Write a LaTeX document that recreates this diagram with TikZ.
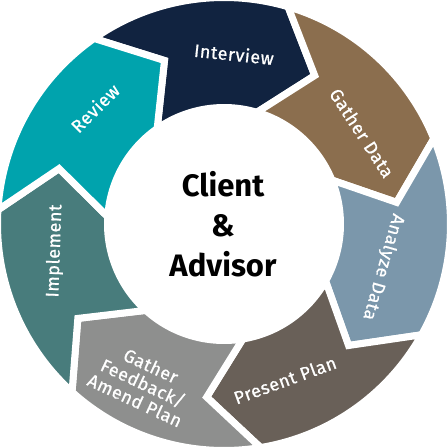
\documentclass[tikz,border=0pt]{standalone}
\usepackage{fontspec}
\setmainfont{Fira Sans}
\newfontfamily\lblfont{Fira Sans}[FakeBold=0.8, LetterSpace=3]
\definecolor{cNavy}{RGB}{17,35,64}
\definecolor{cBrown}{RGB}{139,110,78}
\definecolor{cSteel}{RGB}{123,151,171}
\definecolor{cTaupe}{RGB}{105,96,88}
\definecolor{cGray}{RGB}{142,143,142}
\definecolor{cSea}{RGB}{72,124,124}
\definecolor{cTeal}{RGB}{0,163,173}
\newcommand\RingSeg[3]{%
  \path[seg=#1] (#2:226.5pt) arc[start angle=#2, end angle=#3, radius=226.5pt]
    -- ({#3-15}:174pt) -- (#3:116.5pt)
    arc[start angle=#3, end angle=#2, radius=116.5pt]
    -- ({#2-15}:174pt) -- cycle;}
\begin{document}
\begin{tikzpicture}[
  seg/.style={fill=#1, draw=white, line width=7pt, line join=miter},
  lbl/.style={text=white, font=\lblfont\fontsize{18}{19}\selectfont, inner sep=0pt},
  hub/.style={text=black, font=\bfseries\fontsize{31}{40}\selectfont, align=center}]
\useasboundingbox (-224pt,-224pt) rectangle (224pt,224pt);
\RingSeg{cNavy}{125}{73.57}
\RingSeg{cBrown}{73.57}{22.14}
\RingSeg{cSteel}{22.14}{-29.29}
\RingSeg{cTaupe}{-29.29}{-80.71}
\RingSeg{cGray}{-80.71}{-132.14}
\RingSeg{cSea}{-132.14}{-183.57}
\RingSeg{cTeal}{176.43}{125}
\node[lbl, rotate=-6] (interview) at (10pt,170pt) {Interview};
\node[lbl, rotate=-57] (gather) at (138pt,91pt) {Gather Data};
\node[lbl, rotate=-106] (analyze) at (159pt,-43pt) {Analyze Data};
\node[lbl, rotate=20] (present) at (61pt,-156pt) {Present Plan};
\node[lbl, rotate=-25, align=center, font=\lblfont\fontsize{18}{19}\selectfont] (feedback) at (-81pt,-159pt) {Gather\\Feedback/\\Amend Plan};
\node[lbl, rotate=88] (implement) at (-169pt,-27pt) {Implement};
\node[lbl, rotate=45] (review) at (-129pt,116pt) {Review};
\node[hub] (hubtext) at (-1pt,-0.5pt) {Client\\\&\\Advisor};
\end{tikzpicture}
\end{document}
